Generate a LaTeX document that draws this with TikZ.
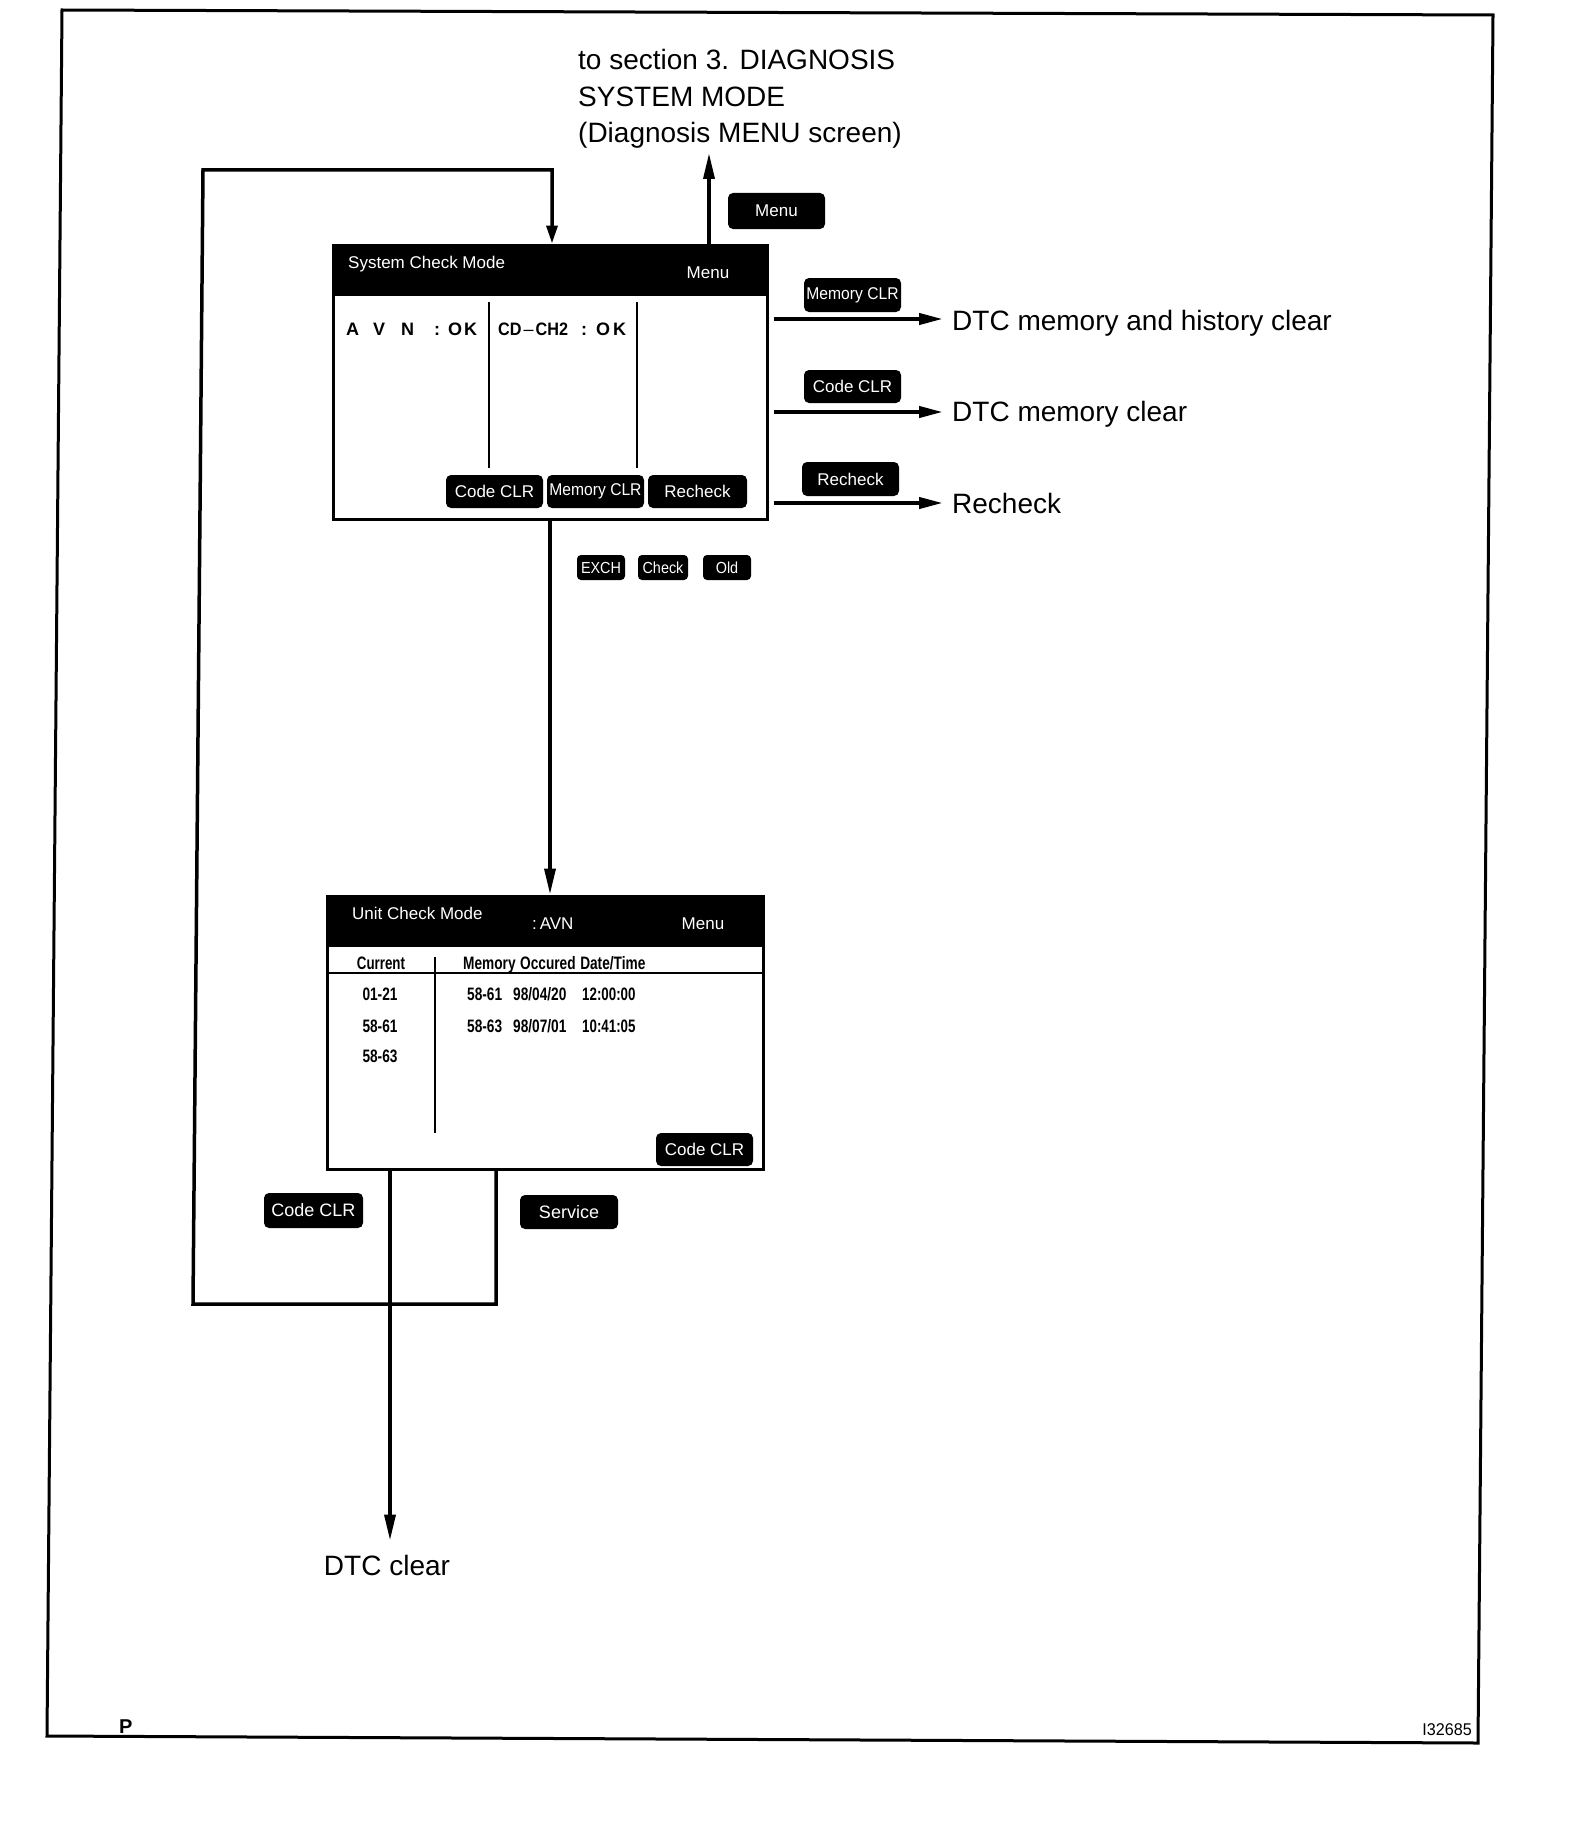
\documentclass[tikz,border=0pt]{standalone}
\usepackage{fontspec}
\setmainfont{Liberation Sans}
\usepackage{graphicx}
\usetikzlibrary{arrows.meta}
\newcommand{\condtxt}[2][0.8]{\scalebox{#1}[1]{#2}}
\tikzset{
  lbl/.style={font=\fontsize{28}{36.7}\selectfont, inner sep=0pt},
  scr/.style={font=\fontsize{17}{20}\selectfont, inner sep=0pt},
  scrb/.style={font=\fontsize{18}{20}\selectfont\bfseries, inner sep=0pt},
  btn/.style={fill=black, text=white, rounded corners=5pt, inner sep=0pt, font=\fontsize{17}{20}\selectfont},
  screenbox/.style={draw, line width=3pt, inner sep=0pt},
  framebox/.style={line width=3pt},
  divider/.style={line width=2pt},
  conn/.style={line width=3.5pt, -{Triangle[length=26pt,width=11pt]}},
  loopconn/.style={line width=3.5pt, -{Triangle[length=18pt,width=11pt]}},
  rconn/.style={line width=4pt, -{Triangle[length=24pt,width=11pt]}},
}
\begin{document}
\begin{tikzpicture}[x=1pt,y=-1pt]
\useasboundingbox (0,0) rectangle (1584,1830);
% outer frame
\draw[framebox] (62,10) -- (1493,15) -- (1478,1743) -- (47,1736) -- cycle;

% ---------- System Check Mode screen ----------
\node[screenbox, minimum width=434pt, minimum height=274pt] (sys) at (550,382) {};
\fill (sys.north west) rectangle ([yshift=-52pt]sys.north east);
\node[scr, text=white, anchor=base west] (systitle) at (348,268) {System Check Mode};
\node[scr, text=white, anchor=base] (sysmenu) at (708,278) {Menu};
\draw[divider] (489,302) -- (489,468);
\draw[divider] (637,302) -- (637,468);
\node[scrb, anchor=base west] (avn) at (346,335) {A\hspace{14pt}V\hspace{16pt}N\hspace{20pt}:\hspace{8pt}O\hspace{2pt}K};
\node[scrb, anchor=base west] (cdch) at (498,335) {\condtxt[0.9]{CD}\hspace{2pt}{\mdseries\textendash}\hspace{2pt}\condtxt[0.9]{CH2}\hspace{13pt}:\hspace{9pt}O\hspace{3pt}K};
\node[btn, minimum width=97pt, minimum height=33pt] (b1) at (494.5,491.5) {Code CLR};
\node[btn, minimum width=97pt, minimum height=33pt] (b2) at (595.5,491.5) {\condtxt[0.92]{Memory CLR}};
\node[btn, minimum width=99pt, minimum height=33pt] (b3) at (697.5,491.5) {Recheck};

% ---------- Unit Check Mode screen ----------
\node[screenbox, minimum width=436pt, minimum height=273pt] (unit) at (545,1032.5) {};
\fill (unit.north west) rectangle ([yshift=-52pt]unit.north east);
\node[scr, text=white, anchor=base west] (unittitle) at (352,919) {Unit Check Mode};
\node[scr, text=white, anchor=base west] (unitavn) at (532,929) {:\,AVN};
\node[scr, text=white, anchor=base] (unitmenu) at (703,929) {Menu};
\draw[divider] (unit.west |- 0,973) -- (unit.east |- 0,973);
\draw[divider] (435,957) -- (435,1133);
\node[scrb, anchor=base] (cur) at (381,969) {\condtxt[0.74]{Current}};
\node[scrb, anchor=base west] (memh) at (463,969) {\condtxt[0.76]{Memory\hspace{6pt}Occured\hspace{6pt}Date/Time}};
\node[scrb, anchor=base] (c1) at (380,1000) {\condtxt[0.76]{01-21}};
\node[scrb, anchor=base] (c2) at (380,1032) {\condtxt[0.76]{58-61}};
\node[scrb, anchor=base] (c3) at (380,1062) {\condtxt[0.76]{58-63}};
\node[scrb, anchor=base west] (r1a) at (467,1000) {\condtxt[0.76]{58-61}};
\node[scrb, anchor=base west] (r1b) at (513,1000) {\condtxt[0.76]{98/04/20}};
\node[scrb, anchor=base west] (r1c) at (582,1000) {\condtxt[0.74]{12:00:00}};
\node[scrb, anchor=base west] (r2a) at (467,1032) {\condtxt[0.76]{58-63}};
\node[scrb, anchor=base west] (r2b) at (513,1032) {\condtxt[0.76]{98/07/01}};
\node[scrb, anchor=base west] (r2c) at (582,1032) {\condtxt[0.74]{10:41:05}};
\node[btn, minimum width=97pt, minimum height=33pt] (ub) at (704.5,1149.5) {Code CLR};

% ---------- key labels ----------
\node[btn, minimum width=97pt, minimum height=36pt] (kmenu) at (776.5,211) {Menu};
\node[btn, minimum width=97pt, minimum height=34pt] (kmem) at (852.5,295) {\condtxt[0.92]{Memory CLR}};
\node[btn, minimum width=97pt, minimum height=33pt] (kcode) at (852.5,386.5) {Code CLR};
\node[btn, minimum width=97pt, minimum height=34pt] (krech) at (850.5,479) {Recheck};
\node[btn, minimum width=48pt, minimum height=25pt, rounded corners=4pt, font=\fontsize{16}{18}\selectfont] (kexch) at (601,567.5) {\condtxt[0.9]{EXCH}};
\node[btn, minimum width=50pt, minimum height=25pt, rounded corners=4pt, font=\fontsize{16}{18}\selectfont] (kcheck) at (663,567.5) {\condtxt[0.9]{Check}};
\node[btn, minimum width=48pt, minimum height=25pt, rounded corners=4pt, font=\fontsize{16}{18}\selectfont] (kold) at (727,567.5) {\condtxt[0.9]{Old}};
\node[btn, minimum width=99pt, minimum height=35pt, font=\fontsize{18}{20}\selectfont] (kcode2) at (313.5,1210.5) {Code CLR};
\node[btn, minimum width=98pt, minimum height=34pt, font=\fontsize{18}{20}\selectfont] (kserv) at (569,1212) {Service};

% ---------- result labels ----------
\node[lbl, anchor=base west, align=left] (dest) at (578,143) {to section 3. DIAGNOSIS\\SYSTEM MODE\\(Diagnosis MENU screen)};
\node[lbl, anchor=base west] (l1) at (952,330) {DTC memory and history clear};
\node[lbl, anchor=base west] (l2) at (952,421) {DTC memory clear};
\node[lbl, anchor=base west] (l3) at (952,513) {Recheck};
\node[lbl, anchor=base] (dtcl) at (387,1575) {DTC clear};

% ---------- connectors ----------
\coordinate (menutop) at (709,153);
\draw[conn] (menutop |- sys.north) -- (menutop);
\draw[conn] (sys.south) -- (sys.south |- unit.north);
\coordinate (ms1) at (774,319);
\coordinate (ms2) at (774,412);
\coordinate (ms3) at (774,503);
\draw[rconn, shorten >=9pt] (ms1) -- (ms1 -| l1.west);
\draw[rconn, shorten >=9pt] (ms2) -- (ms2 -| l2.west);
\draw[rconn, shorten >=9pt] (ms3) -- (ms3 -| l3.west);
\coordinate (lp1) at (496,1304);
\coordinate (lp2) at (193,1304);
\coordinate (lp3) at (203,170);
\coordinate (lp4) at (552,170);
\draw[loopconn, line join=miter] (unit.south -| lp1) -- (lp1) -- (lp2) -- (lp3) -- (lp4) -- (lp4 |- sys.north);
\coordinate (dtcx) at (390,0);
\draw[conn, shorten >=14pt] (unit.south -| dtcx) -- (dtcx |- dtcl.north);

% ---------- footer ----------
\node[font=\fontsize{20}{24}\selectfont\bfseries, inner sep=0pt, anchor=base west] (pmark) at (119,1733) {P};
\node[font=\fontsize{17}{20}\selectfont, inner sep=0pt, anchor=base east] (fig) at (1472,1735) {\condtxt[0.95]{I32685}};
\end{tikzpicture}
\end{document}
